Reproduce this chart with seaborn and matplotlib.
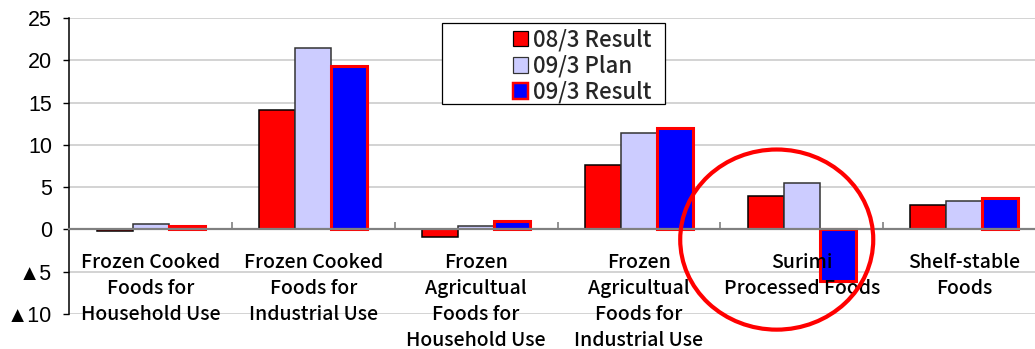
import matplotlib
matplotlib.use("Agg")
import matplotlib.pyplot as plt
from matplotlib.patches import Ellipse, Rectangle, Patch
import seaborn as sns
import pandas as pd

categories = [
    "Frozen Cooked\nFoods for\nHousehold Use",
    "Frozen Cooked\nFoods for\nIndustrial Use",
    "Frozen\nAgricultual\nFoods for\nHousehold Use",
    "Frozen\nAgricultual\nFoods for\nIndustrial Use",
    "Surimi\nProcessed Foods",
    "Shelf-stable\nFoods",
]
series_names = ["08/3 Result", "09/3 Plan", "09/3 Result"]
result_0803 = [-0.2, 14.1, -0.9, 7.6, 4.0, 2.9]
plan_0903 = [0.6, 21.5, 0.4, 11.4, 5.5, 3.4]
result_0903 = [0.4, 19.3, 1.0, 12.0, -6.1, 3.7]

y_ticks = [-10, -5, 0, 5, 10, 15, 20, 25]
y_tick_labels = ["▲10", "▲5", "0", "5", "10", "15", "20", "25"]

fills = {"08/3 Result": "#FF0000", "09/3 Plan": "#CCCCFF", "09/3 Result": "#0000FF"}
edges = {"08/3 Result": "#000000", "09/3 Plan": "#333333", "09/3 Result": "#FF0000"}
edge_widths = {"08/3 Result": 1.1, "09/3 Plan": 1.1, "09/3 Result": 2.2}

df = pd.DataFrame({
    "category": categories * 3,
    "series": [s for s in series_names for _ in categories],
    "value": result_0803 + plan_0903 + result_0903,
})

label_font = ["Noto Sans CJK JP", "DejaVu Sans"]
tick_font = ["Liberation Sans", "DejaVu Sans"]

sns.set_theme(style="white")
plt.rcParams["font.family"] = label_font

fig = plt.figure(figsize=(10.35, 3.49), dpi=100)
ax = fig.add_axes([0.0669, 0.1003, 0.9435, 0.8481])

sns.barplot(data=df, x="category", y="value", hue="series",
            order=categories, hue_order=series_names,
            palette=fills, saturation=1, width=0.664, legend=False, ax=ax)

for name, container in zip(series_names, ax.containers):
    for bar in container:
        bar.set_edgecolor(edges[name])
        bar.set_linewidth(edge_widths[name])
        bar.set_zorder(3)

ax.set_xlim(-0.5, 5.5)
ax.set_ylim(-10, 25)
ax.set_xlabel("")
ax.set_ylabel("")

# horizontal gridlines
ax.set_yticks(y_ticks)
ax.set_yticklabels(y_tick_labels, family=tick_font, fontsize=15.5, color="#000000")
ax.yaxis.grid(True, color="#C8C8C8", linewidth=1.1, zorder=0)
ax.xaxis.grid(False)
ax.set_axisbelow(True)
# category labels are drawn over the bars
ax.xaxis.set_zorder(5)

# spines: left axis black, category axis sits at zero
for side in ["top", "right"]:
    ax.spines[side].set_visible(False)
ax.spines["left"].set_color("#000000")
ax.spines["left"].set_linewidth(1.1)
ax.spines["bottom"].set_position(("data", 0))
ax.spines["bottom"].set_color("#808080")
ax.spines["bottom"].set_linewidth(1.6)
ax.spines["bottom"].set_zorder(4)

ax.tick_params(axis="y", which="major", direction="out", length=4.3, width=1.0,
               color="#000000", pad=8, left=True)

# category boundaries as small inward ticks, labels under the zero line
ax.set_xticks(range(len(categories)))
ax.set_xticklabels(categories, fontsize=14, color="#000000", fontweight="medium")
for lbl in ax.get_xticklabels():
    lbl.set_linespacing(1.47)
ax.set_xticks([i + 0.5 for i in range(len(categories))], minor=True)
ax.tick_params(axis="x", which="major", length=0, pad=17)
ax.tick_params(axis="x", which="minor", direction="in", length=5, width=1.2,
               color="#808080", bottom=True)

# legend in a plain black frame
frame = Rectangle((0.427, 0.702), 0.2155, 0.232, transform=fig.transFigure,
                  facecolor="white", edgecolor="#000000", linewidth=0.9, zorder=5)
fig.patches.append(frame)
handles = [Patch(facecolor=fills[n], edgecolor=edges[n], linewidth=edge_widths[n] * 0.8)
           for n in series_names]
leg = fig.legend(handles, series_names, loc="upper left",
                 bbox_to_anchor=(0.4957, 0.918), frameon=False,
                 prop={"size": 16, "weight": "medium"},
                 handlelength=0.68, handleheight=0.68,
                 handletextpad=0.2, labelspacing=0.14, borderpad=0,
                 borderaxespad=0)
leg.set_zorder(6)

# highlight ring around the surimi group
ring = Ellipse((3.847, -1.2), 1.186, 21.3, facecolor="none",
               edgecolor="#FF0000", linewidth=3.0, clip_on=False, zorder=7)
ax.add_patch(ring)

fig.savefig("out.png", dpi=100)
